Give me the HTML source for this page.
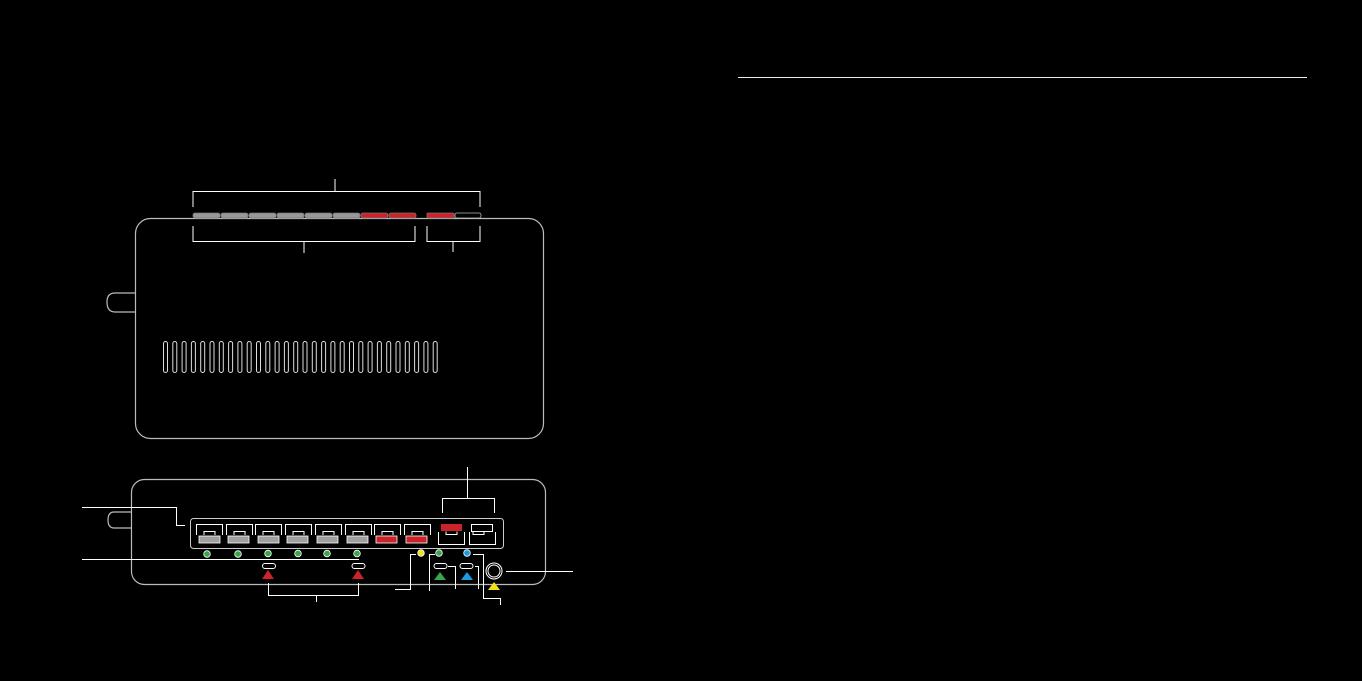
<!DOCTYPE html>
<html><head><style>html,body{margin:0;padding:0;background:#000;width:1362px;height:681px;overflow:hidden}</style></head>
<body>
<svg width="1362" height="681" viewBox="0 0 1362 681" xmlns="http://www.w3.org/2000/svg">
<rect width="1362" height="681" fill="#000"/>
<line x1="738" y1="77.5" x2="1307" y2="77.5" stroke="#eee" stroke-width="1"/>
<g fill="none" stroke="#bbb" stroke-width="1.2">
<rect x="135.5" y="218.5" width="408" height="220" rx="15"/>
<path d="M135 293 H115 Q107 293 107 302 Q107 312 115 312 H135"/>
<rect x="131.5" y="479.5" width="414" height="105" rx="13"/>
<path d="M131 512 H114 Q108 512 108 520 Q108 528 114 528 H131"/>
</g>
<g fill="none" stroke="#ddd" stroke-width="1">
<rect x="163.5" y="341.5" width="4" height="31" rx="2"/><rect x="172.8" y="341.5" width="4" height="31" rx="2"/><rect x="182.1" y="341.5" width="4" height="31" rx="2"/><rect x="191.4" y="341.5" width="4" height="31" rx="2"/><rect x="200.7" y="341.5" width="4" height="31" rx="2"/><rect x="210" y="341.5" width="4" height="31" rx="2"/><rect x="219.3" y="341.5" width="4" height="31" rx="2"/><rect x="228.6" y="341.5" width="4" height="31" rx="2"/><rect x="237.9" y="341.5" width="4" height="31" rx="2"/><rect x="247.2" y="341.5" width="4" height="31" rx="2"/><rect x="256.5" y="341.5" width="4" height="31" rx="2"/><rect x="265.8" y="341.5" width="4" height="31" rx="2"/><rect x="275.1" y="341.5" width="4" height="31" rx="2"/><rect x="284.4" y="341.5" width="4" height="31" rx="2"/><rect x="293.7" y="341.5" width="4" height="31" rx="2"/><rect x="303" y="341.5" width="4" height="31" rx="2"/><rect x="312.3" y="341.5" width="4" height="31" rx="2"/><rect x="321.6" y="341.5" width="4" height="31" rx="2"/><rect x="330.9" y="341.5" width="4" height="31" rx="2"/><rect x="340.2" y="341.5" width="4" height="31" rx="2"/><rect x="349.5" y="341.5" width="4" height="31" rx="2"/><rect x="358.8" y="341.5" width="4" height="31" rx="2"/><rect x="368.1" y="341.5" width="4" height="31" rx="2"/><rect x="377.4" y="341.5" width="4" height="31" rx="2"/><rect x="386.7" y="341.5" width="4" height="31" rx="2"/><rect x="396" y="341.5" width="4" height="31" rx="2"/><rect x="405.3" y="341.5" width="4" height="31" rx="2"/><rect x="414.6" y="341.5" width="4" height="31" rx="2"/><rect x="423.9" y="341.5" width="4" height="31" rx="2"/><rect x="433.2" y="341.5" width="4" height="31" rx="2"/>
</g>
<g stroke="#777" stroke-width="0.8">
<rect x="193" y="213" width="27" height="5" rx="2" fill="#999"/><rect x="221" y="213" width="27" height="5" rx="2" fill="#999"/><rect x="249" y="213" width="27" height="5" rx="2" fill="#999"/><rect x="277" y="213" width="27" height="5" rx="2" fill="#999"/><rect x="305" y="213" width="27" height="5" rx="2" fill="#999"/><rect x="333" y="213" width="27" height="5" rx="2" fill="#999"/>
<rect x="361" y="213" width="27" height="5" rx="2" fill="#cc2229"/><rect x="389" y="213" width="27" height="5" rx="2" fill="#cc2229"/>
<rect x="427" y="213" width="27" height="5" rx="1" fill="#cc2229"/><rect x="455" y="213" width="26" height="5" rx="2" fill="#000" stroke="#bbb"/>
</g>
<g fill="none" stroke="#fff" stroke-width="1">
<path d="M193 207 V191.5 H480 V207 M335 179 V191"/>
<path d="M193 226 V241.5 H415 V226 M304 241 V253"/>
<path d="M427 226 V241.5 H480 V226 M453 241 V252"/>
</g>
<rect x="190.5" y="518.5" width="313" height="30" rx="3" fill="none" stroke="#ccc" stroke-width="1"/>
<g fill="none" stroke="#fff" stroke-width="1">
<path d="M196.5 535 V524.5 H222.5 V535 M204 535 V531.5 H215 V535"/>
<path d="M226.5 535 V524.5 H252.5 V535 M234 535 V531.5 H245 V535"/>
<path d="M255.5 535 V524.5 H281.5 V535 M263 535 V531.5 H274 V535"/>
<path d="M285.5 535 V524.5 H311.5 V535 M293 535 V531.5 H304 V535"/>
<path d="M315.5 535 V524.5 H341.5 V535 M323 535 V531.5 H334 V535"/>
<path d="M345.5 535 V524.5 H371.5 V535 M353 535 V531.5 H364 V535"/>
<path d="M374.5 535 V524.5 H400.5 V535 M382 535 V531.5 H393 V535"/>
<path d="M404.5 535 V524.5 H430.5 V535 M412 535 V531.5 H423 V535"/>
<path d="M438.5 532 V544.5 H464.5 V532"/>
<path d="M469.5 532 V544.5 H495.5 V532"/>
<rect x="471.5" y="524.5" width="21" height="7"/>
<path d="M446 531.5 V534.5 H457 V531.5 M473 532 V534.5 H484 V532"/>
</g>
<g fill="#a0a0a0" stroke="#fff" stroke-width="0.8">
<rect x="199" y="536" width="21" height="7"/><rect x="228" y="536" width="21" height="7"/><rect x="258" y="536" width="21" height="7"/><rect x="287" y="536" width="21" height="7"/><rect x="317" y="536" width="21" height="7"/><rect x="347" y="536" width="21" height="7"/>
</g>
<g fill="#cc2229" stroke="#fff" stroke-width="0.8">
<rect x="376" y="536" width="21" height="7"/><rect x="406" y="536" width="21" height="7"/>
</g>
<rect x="441" y="524" width="21" height="7" fill="#cc2229"/>
<g fill="#3aa64a" stroke="#fff" stroke-width="0.8">
<circle cx="207" cy="554" r="3.3"/><circle cx="238" cy="554" r="3.3"/><circle cx="268" cy="553.5" r="3.3"/><circle cx="298" cy="553.5" r="3.3"/><circle cx="327" cy="553.5" r="3.3"/><circle cx="357" cy="553.5" r="3.3"/><circle cx="439" cy="553" r="3.3"/>
</g>
<circle cx="421" cy="553" r="3.3" fill="#f3e21a" stroke="#fff" stroke-width="0.8"/>
<circle cx="467" cy="553" r="3.3" fill="#1a9be0" stroke="#fff" stroke-width="0.8"/>
<g fill="none" stroke="#fff" stroke-width="1">
<rect x="262.5" y="563.5" width="13" height="5" rx="2.5"/><rect x="352" y="563.5" width="13" height="5" rx="2.5"/>
<rect x="434" y="563.5" width="13" height="5" rx="2.5"/><rect x="460" y="563.5" width="13" height="5" rx="2.5"/>
<circle cx="494" cy="571" r="8"/><circle cx="494" cy="571" r="6"/>
</g>
<polygon points="268,570 274,579 262,579" fill="#cc2229"/>
<polygon points="358,570 364,579 352,579" fill="#cc2229"/>
<polygon points="440,572 446,580 434,580" fill="#3aa64a"/>
<polygon points="467,572 473,580 461,580" fill="#1a9be0"/>
<polygon points="494,582 500,590 488,590" fill="#f3e21a"/>
<g fill="none" stroke="#fff" stroke-width="1">
<path d="M82 507.5 H176.5 V525.5 H185"/>
<path d="M82 559.5 H359"/>
<path d="M268.5 583 V595.5 H358.5 V583 M316.5 595 V602"/>
<path d="M395 589.5 H410.5 V554.5 H416"/>
<path d="M429.5 591 V554.5 H435"/>
<path d="M448 566.5 H455.5 V589"/>
<path d="M475 566.5 H478.5 V589"/>
<path d="M473 554.5 H483.5 V598.5 H500.5 V605"/>
<path d="M506 571.5 H573"/>
<path d="M442.5 513 V498.5 H494.5 V513 M467.5 467 V498"/>
</g>
</svg>
</body></html>
